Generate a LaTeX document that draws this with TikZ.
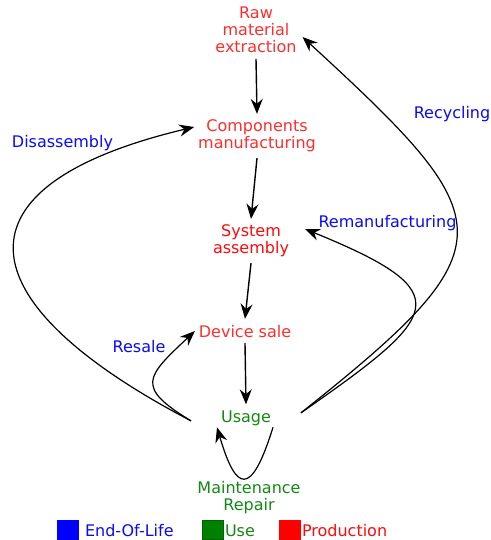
\documentclass[tikz,border=0pt]{standalone}
\usepackage{fontspec}
\setmainfont{DejaVu Sans}
\usetikzlibrary{arrows.meta}
\definecolor{prodred}{RGB}{255,45,45}
\definecolor{sysred}{RGB}{255,10,10}
\definecolor{usegreen}{RGB}{20,135,20}
\definecolor{eolblue}{RGB}{10,10,245}
\begin{document}
\begin{tikzpicture}[x=1pt,y=-1pt,
  every node/.style={font=\fontsize{16}{17}\selectfont, inner xsep=4pt, inner ysep=6pt, outer sep=0pt},
  stage/.style={align=center, text=prodred},
  flow/.style={line width=1.4pt, -{Stealth[length=15pt,width=12pt,inset=5pt]}},
  loop/.style={line width=1.2pt, -{Stealth[length=15pt,width=12pt,inset=5pt]}},
  eol/.style={text=eolblue, inner sep=0pt},
  legbox/.style={minimum width=21pt, minimum height=19pt, inner sep=0pt, line width=0.6pt}
]
\path[use as bounding box] (0,0) rectangle (490,540);

\node[stage] (raw) at (256,30) {Raw\\material\\extraction};
\node[stage] (comp) at (257,136) {Components\\manufacturing};
\node[stage, text=sysred] (sys) at (251,241) {System\\assembly};
\node[stage, anchor=base] (sale) at (245,337) {Device sale};
\node[anchor=base, text=usegreen, minimum width=110pt] (use) at (246,422) {Usage};
\node[align=center, text=usegreen] (maint) at (249,498) {Maintenance\\Repair};

% straight production flow
\draw[flow] (raw.south) -- (comp.north);
\draw[flow] (comp.south) -- (sys.north);
\draw[flow] (sys.south) -- (sale.north);
\draw[flow] (sale.south) -- (use.north);

% end-of-life loops
\draw[loop] ([yshift=-3pt]use.west) .. controls (-40,300) and (-50,185) .. ([yshift=9pt]comp.west);
\draw[loop] ([yshift=-3pt]use.west) .. controls (135,387) and (146,377) .. (sale.west);
\draw[loop] ([yshift=5pt]use.east) .. controls (441,315) and (462,293) .. ([xshift=12pt,yshift=12pt]sys.east);
\draw[loop] ([yshift=5pt]use.east) .. controls (512,245) and (504,222) .. ([xshift=2pt,yshift=-7pt]raw.east);
\draw[loop] ([xshift=27pt,yshift=4pt]use.south) .. controls (251,498) and (236,492) .. ([xshift=-29pt,yshift=4pt]use.south);

% labels
\node[eol] (ldis) at (62.5,143) {Disassembly};
\node[eol] (lrec) at (452,114) {Recycling};
\node[eol] (lrem) at (387.5,223) {Remanufacturing};
\node[eol] (lres) at (139,347) {Resale};

% legend
\node[legbox, fill=blue, draw=blue] (kb) at (67.5,530) {};
\node[anchor=base west, inner sep=0pt, text=eolblue] (kbt) at (85,536) {End-Of-Life};
\node[legbox, fill={rgb,255:red,0;green,128;blue,0}, draw={rgb,255:red,0;green,100;blue,0}] (kg) at (212.5,530) {};
\node[anchor=base west, inner sep=0pt, text=usegreen] (kgt) at (225,536) {Use};
\node[legbox, fill=red, draw=red] (kr) at (289.5,530) {};
\node[anchor=base west, inner sep=0pt, text=sysred] (krt) at (302,536) {Production};
\end{tikzpicture}
\end{document}
